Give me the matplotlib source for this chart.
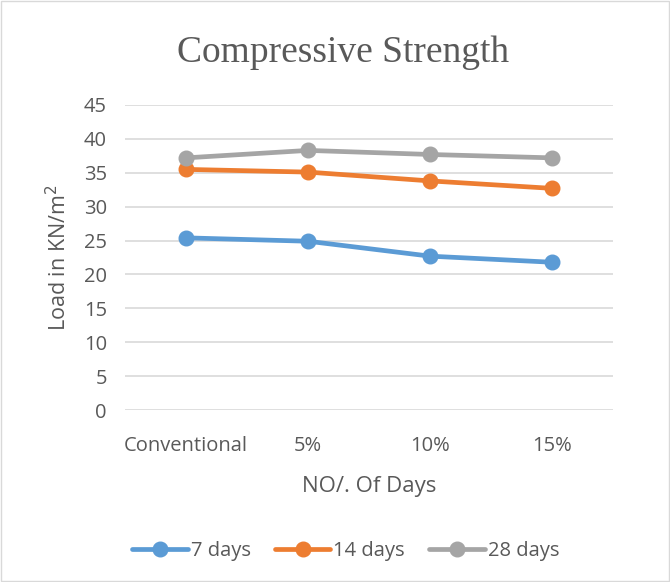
import matplotlib
matplotlib.use("Agg")
from matplotlib import pyplot as plt
from matplotlib.patches import Rectangle

categories = ["Conventional", "5%", "10%", "15%"]
days_7 = [25.4, 24.9, 22.7, 21.8]
days_14 = [35.5, 35.1, 33.8, 32.7]
days_28 = [37.2, 38.3, 37.7, 37.2]
y_ticks = list(range(0, 50, 5))

text_color = "#595959"
grid_color = "#d9d9d9"

plt.rcParams["font.family"] = ["Open Sans", "DejaVu Sans"]

fig = plt.figure(figsize=(6.7, 5.82), dpi=100)
ax = fig.add_axes([0.1866, 0.2955, 0.7284, 0.5241])

xs = range(len(categories))
series = [(days_7, "#5B9BD5", "7 days"),
          (days_14, "#ED7D31", "14 days"),
          (days_28, "#A5A5A5", "28 days")]
for ys, color, label in series:
    ax.plot(xs, ys, "-o", color=color, lw=3.4, markersize=10.5, label=label,
            solid_capstyle="round")

ax.set_xlim(-0.5, len(categories) - 0.5)
ax.set_ylim(0, 45)
ax.set_yticks(y_ticks)
ax.set_xticks(list(xs))
ax.set_xticklabels(categories)
ax.grid(axis="y", color=grid_color, lw=1.2)
ax.set_axisbelow(True)
for side in ["top", "right", "left", "bottom"]:
    ax.spines[side].set_visible(False)
ax.tick_params(length=0, labelsize=14.5, colors=text_color, pad=13)
ax.tick_params(axis="x", pad=19)

ax.set_xlabel("NO/. Of Days", fontsize=16, color=text_color, labelpad=14)
ax.set_ylabel("Load in KN/m$^2$", fontsize=15.5, color=text_color, labelpad=9)

fig.text(0.512, 0.91, "Compressive Strength", fontsize=27, color=text_color,
         family="Liberation Serif", ha="center", va="center")

fig.legend(loc="center", bbox_to_anchor=(0.516, 0.053), ncol=3, frameon=False,
           fontsize=14.5, labelcolor=text_color, handlelength=2.75,
           handletextpad=0.15, columnspacing=1.2)

fig.patches.append(Rectangle((0.002, 0.002), 0.996, 0.996, transform=fig.transFigure,
                             fill=False, edgecolor="#d9d9d9", lw=1))

fig.savefig("out.png", dpi=100)
